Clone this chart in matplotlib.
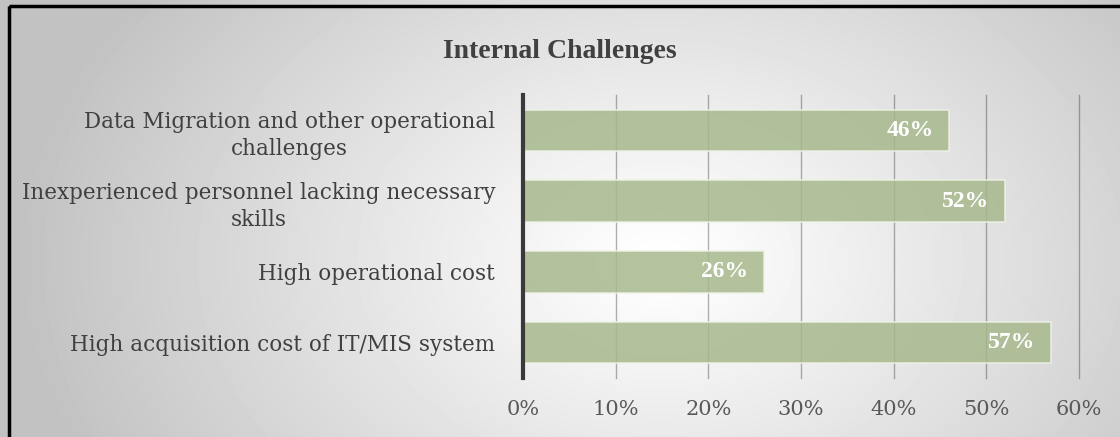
import numpy as np
import matplotlib
matplotlib.use("Agg")
import matplotlib.pyplot as plt
from matplotlib.patches import Rectangle

categories = ["High acquisition cost of IT/MIS system",
              "High operational cost",
              "Inexperienced personnel lacking necessary\nskills",
              "Data Migration and other operational\nchallenges"]
values = [0.57, 0.26, 0.52, 0.46]
xticks = [0, 0.1, 0.2, 0.3, 0.4, 0.5, 0.6]
xticklabels = ["0%", "10%", "20%", "30%", "40%", "50%", "60%"]
title = "Internal Challenges"

plt.rcParams['font.family'] = ['DejaVu Serif']

W, H = 1120, 437
fig = plt.figure(figsize=(W / 100, H / 100), dpi=100)

# background gradient
bg = fig.add_axes([0, 0, 1, 1], zorder=-10)
yy, xx = np.mgrid[0:H, 0:W]
d = np.sqrt(((xx - 660) / 640.0) ** 2 + ((yy - 260) / 460.0) ** 2)
g = 1.0 - 0.24 * np.clip(d, 0, 1) ** 1.1
bg.imshow(g, cmap='gray', vmin=0, vmax=1, extent=[0, W, H, 0], aspect='auto', interpolation='bilinear')
bg.set_xlim(0, W)
bg.set_ylim(H, 0)
bg.axis('off')
bg.add_patch(Rectangle((9, 6), W - 9 + 2, H, fill=False, edgecolor='black', lw=2.5))

ax = fig.add_axes([523 / W, (H - 378) / H, (1079 - 523) / W, (378 - 95) / H])
ax.set_facecolor('none')
y = np.arange(len(categories))
bars = ax.barh(y, values, height=0.59, color='#a7b98d', alpha=0.85,
               edgecolor='#eef2e6', linewidth=1.2, zorder=3)
for yi, v in zip(y, values):
    ax.text(v - 0.017, yi, f"{int(round(v * 100))}%", ha='right', va='center',
            color='white', fontsize=17, fontweight='bold', zorder=5,
            family=['Liberation Serif', 'DejaVu Serif'])

ax.set_xlim(0, 0.6)
ax.set_ylim(-0.5, 3.5)
ax.set_xticks(xticks)
ax.set_xticklabels(xticklabels, fontsize=15, color='#595959')
ax.set_yticks(y)
ax.set_yticklabels(categories, fontsize=15.5, color='#404040', linespacing=1.33)
ax.tick_params(axis='both', length=0)
ax.tick_params(axis='x', pad=16)
ax.tick_params(axis='y', pad=20)
for lbl in ax.get_yticklabels():
    lbl.set_multialignment('center')
ax.grid(axis='x', color='#000000', alpha=0.3, lw=1, zorder=1)
for gl in ax.get_xgridlines():
    gl.set_clip_on(False)
ax.set_axisbelow(False)
for s in ['top', 'right', 'bottom']:
    ax.spines[s].set_visible(False)
ax.spines['left'].set_color('#3a3a3a')
ax.spines['left'].set_linewidth(3)
ax.spines['left'].set_zorder(6)

fig.text(560 / W, 1 - 51 / H, title, ha='center', va='center', fontsize=20,
         fontweight='bold', color='#404040', family=['Liberation Serif', 'DejaVu Serif'])

fig.savefig('out.png', dpi=100)
